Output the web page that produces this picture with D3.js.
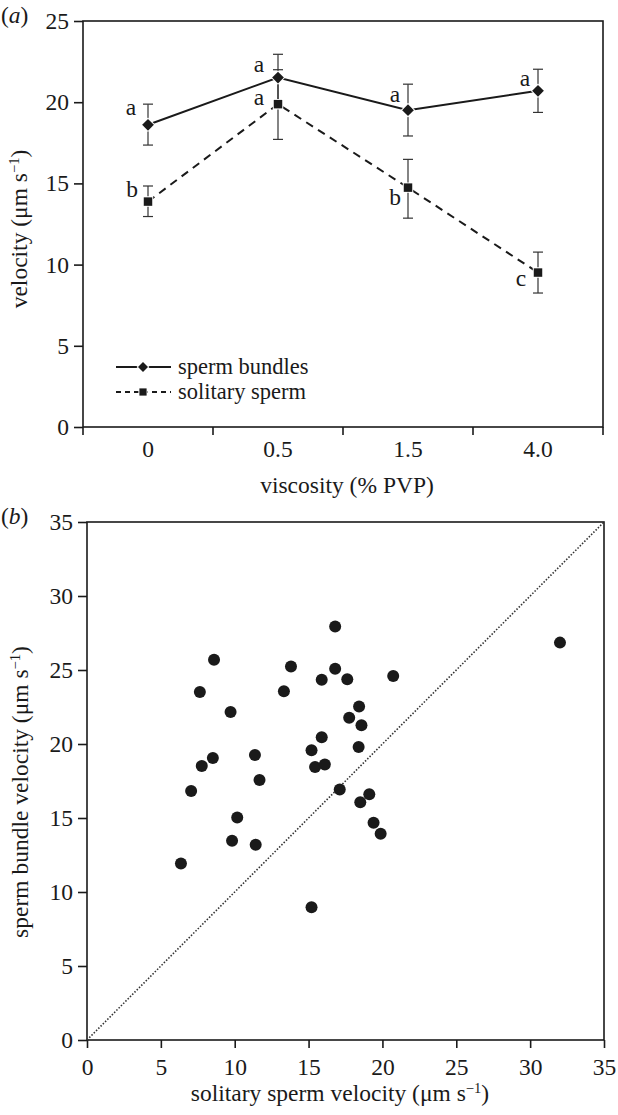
<!DOCTYPE html>
<html>
<head>
<meta charset="utf-8">
<script src="https://cdn.jsdelivr.net/npm/d3@7"></script>
<style>
  html, body { margin: 0; padding: 0; background: #fff; }
  svg { display: block; }
  text { font-family: "Liberation Serif", "Times New Roman", serif; fill: #1a1a1a; }
</style>
</head>
<body>
<svg id="chart" width="618" height="1115"></svg>
<script>
// ---------- Panel (a) data ----------
const viscosityCategories = ["0", "0.5", "1.5", "4.0"];
const bundleMeans   = [18.61, 21.52, 19.51, 20.70];
const bundleUpper   = [19.88, 22.95, 21.11, 22.03];
const bundleLower   = [17.36, 20.10, 17.92, 19.37];
const bundleLetters = ["a", "a", "a", "a"];
const solitaryMeans   = [13.88, 19.88, 14.74, 9.51];
const solitaryUpper   = [14.84, 22.00, 16.48, 10.77];
const solitaryLower   = [12.96, 17.71, 12.86, 8.25];
const solitaryLetters = ["b", "a", "b", "c"];
const panelAYTicks = [0, 5, 10, 15, 20, 25];
const legendLabels = ["sperm bundles", "solitary sperm"];

// ---------- Panel (b) data ----------
const solitaryVelocity = [6.36, 7.05, 7.64, 7.77, 8.52, 8.60, 9.72, 9.82, 10.17, 11.37, 11.42, 11.68,
  13.33, 13.81, 15.20, 15.20, 15.44, 15.89, 15.89, 16.10, 16.80, 16.80, 17.11, 17.62, 17.75,
  18.42, 18.39, 18.58, 18.50, 19.11, 19.40, 19.88, 20.73, 32.02];
const bundleVelocity = [11.93, 16.83, 23.52, 18.52, 19.05, 25.69, 22.17, 13.47, 15.03, 19.26, 13.20, 17.57,
  23.57, 25.24, 8.97, 19.58, 18.44, 20.45, 24.34, 18.62, 27.94, 25.08, 16.93, 24.37, 21.77,
  22.54, 19.79, 21.27, 16.06, 16.61, 14.68, 13.94, 24.60, 26.85];
const panelBTicks = [0, 5, 10, 15, 20, 25, 30, 35];

const svg = d3.select("#chart");
const ink = "#1a1a1a";
const FS = 23.5;

function unitLabel(sel, prefix) {
  sel.append("tspan").text(prefix + "μm s");
  sel.append("tspan").attr("dy", -8).attr("font-size", FS * 0.62).text("−1");
  sel.append("tspan").attr("dy", 8).text(")");
}

// ================= Panel (a) =================
const A = { left: 83, right: 603, top: 21, bottom: 427 };
const xA = d3.scaleBand().domain(viscosityCategories).range([A.left, A.right]);
const cx = c => xA(c) + xA.bandwidth() / 2;
const yA = d3.scaleLinear().domain([0, 25]).range([A.bottom, A.top]);

const gA = svg.append("g");
gA.append("rect").attr("x", A.left).attr("y", A.top)
  .attr("width", A.right - A.left).attr("height", A.bottom - A.top)
  .attr("fill", "none").attr("stroke", ink).attr("stroke-width", 1.6);

const yAxisA = gA.append("g").attr("transform", `translate(${A.left},0)`)
  .call(d3.axisLeft(yA).tickValues(panelAYTicks).tickSize(9).tickPadding(5).tickFormat(d3.format("d")));
yAxisA.select(".domain").remove();
yAxisA.selectAll("line").attr("stroke", ink).attr("stroke-width", 1.6);
yAxisA.selectAll("text").attr("font-size", FS).attr("font-family", "Liberation Serif").attr("fill", ink);

const boundaries = viscosityCategories.map(c => xA(c)).concat([A.right]);
gA.selectAll(".xtickA").data(boundaries).join("line")
  .attr("x1", d => d).attr("x2", d => d)
  .attr("y1", A.bottom).attr("y2", A.bottom + 8)
  .attr("stroke", ink).attr("stroke-width", 1.6);
gA.selectAll(".xlabA").data(viscosityCategories).join("text")
  .attr("x", d => cx(d)).attr("y", 457)
  .attr("text-anchor", "middle").attr("font-size", FS).text(d => d);

gA.append("text").attr("x", (A.left + A.right) / 2 + 4).attr("y", 493)
  .attr("text-anchor", "middle").attr("font-size", FS).text("viscosity (% PVP)");

const yTitleA = gA.append("text")
  .attr("transform", `translate(27,229) rotate(-90)`)
  .attr("text-anchor", "middle").attr("font-size", FS);
unitLabel(yTitleA, "velocity (");

gA.append("text").attr("x", 1).attr("y", 23).attr("font-size", FS)
  .html('(<tspan font-style="italic">a</tspan>)');

const lineGen = d3.line().x(d => cx(d.c)).y(d => yA(d.v));
const bundlePts = viscosityCategories.map((c, i) => ({ c, v: bundleMeans[i], hi: bundleUpper[i], lo: bundleLower[i], l: bundleLetters[i] }));
const soloPts = viscosityCategories.map((c, i) => ({ c, v: solitaryMeans[i], hi: solitaryUpper[i], lo: solitaryLower[i], l: solitaryLetters[i] }));

gA.append("path").datum(soloPts).attr("d", lineGen)
  .attr("fill", "none").attr("stroke", ink).attr("stroke-width", 2).attr("stroke-dasharray", "8,6");
gA.append("path").datum(bundlePts).attr("d", lineGen)
  .attr("fill", "none").attr("stroke", ink).attr("stroke-width", 2);

function errorBars(pts) {
  const g = gA.append("g").attr("stroke", "#333").attr("stroke-width", 1.2);
  pts.forEach(p => {
    const x = cx(p.c);
    g.append("line").attr("x1", x).attr("x2", x).attr("y1", yA(p.hi)).attr("y2", yA(p.lo));
    g.append("line").attr("x1", x - 5).attr("x2", x + 5).attr("y1", yA(p.hi)).attr("y2", yA(p.hi));
    g.append("line").attr("x1", x - 5).attr("x2", x + 5).attr("y1", yA(p.lo)).attr("y2", yA(p.lo));
  });
}
errorBars(soloPts);
errorBars(bundlePts);

const diamond = d3.symbol().type(d3.symbolDiamond2).size(88);
const square = d3.symbol().type(d3.symbolSquare).size(72);
const diamondSmall = d3.symbol().type(d3.symbolDiamond2).size(64);
const squareSmall = d3.symbol().type(d3.symbolSquare).size(52);

function markers(pts, sym) {
  gA.selectAll(null).data(pts).join("path")
    .attr("d", sym)
    .attr("transform", d => `translate(${cx(d.c)},${yA(d.v)})`)
    .attr("fill", ink).attr("stroke", "#fff").attr("stroke-width", 2).attr("paint-order", "stroke");
}
markers(soloPts, square);
markers(bundlePts, diamond);

const bundleLetterOffset = [[-17, -10], [-19, -6], [-13, -8], [-13, -5]];
const soloLetterOffset = [[-16, -5], [-19, 1], [-13, 17], [-17, 13]];
function letters(pts, offs) {
  gA.selectAll(null).data(pts).join("text")
    .attr("x", (d, i) => cx(d.c) + offs[i][0])
    .attr("y", (d, i) => yA(d.v) + offs[i][1])
    .attr("text-anchor", "middle").attr("font-size", FS).text(d => d.l);
}
letters(bundlePts, bundleLetterOffset);
letters(soloPts, soloLetterOffset);

// legend
const legend = gA.append("g");
const legRows = [
  { y: 367, dash: null, sym: diamondSmall },
  { y: 392, dash: "5,4", sym: squareSmall }
];
legRows.forEach((r, i) => {
  const ln = legend.append("line").attr("x1", 116).attr("x2", 171).attr("y1", r.y).attr("y2", r.y)
    .attr("stroke", ink).attr("stroke-width", 2);
  if (r.dash) ln.attr("stroke-dasharray", r.dash);
  legend.append("path").attr("d", r.sym).attr("transform", `translate(143,${r.y})`)
    .attr("fill", ink).attr("stroke", "#fff").attr("stroke-width", 2).attr("paint-order", "stroke");
  legend.append("text").attr("x", 178).attr("y", r.y + 7).attr("font-size", 22.5).text(legendLabels[i]);
});

// ================= Panel (b) =================
const B = { left: 87, right: 604, top: 522, bottom: 1040 };
const xB = d3.scaleLinear().domain([0, 35]).range([B.left, B.right]);
const yB = d3.scaleLinear().domain([0, 35]).range([B.bottom, B.top]);
const gB = svg.append("g");

gB.append("rect").attr("x", B.left).attr("y", B.top)
  .attr("width", B.right - B.left).attr("height", B.bottom - B.top)
  .attr("fill", "none").attr("stroke", ink).attr("stroke-width", 1.6);

const yAxisB = gB.append("g").attr("transform", `translate(${B.left},0)`)
  .call(d3.axisLeft(yB).tickValues(panelBTicks).tickSize(9).tickPadding(5).tickFormat(d3.format("d")));
yAxisB.select(".domain").remove();
yAxisB.selectAll("line").attr("stroke", ink).attr("stroke-width", 1.6);
yAxisB.selectAll("text").attr("font-size", FS).attr("font-family", "Liberation Serif").attr("fill", ink);

const xAxisB = gB.append("g").attr("transform", `translate(0,${B.bottom})`)
  .call(d3.axisBottom(xB).tickValues(panelBTicks).tickSize(8).tickPadding(10).tickFormat(d3.format("d")));
xAxisB.select(".domain").remove();
xAxisB.selectAll("line").attr("stroke", ink).attr("stroke-width", 1.6);
xAxisB.selectAll("text").attr("font-size", FS).attr("font-family", "Liberation Serif").attr("fill", ink);

gB.append("line").attr("x1", xB(0)).attr("y1", yB(0)).attr("x2", xB(35)).attr("y2", yB(35))
  .attr("stroke", "#333").attr("stroke-width", 1.6).attr("stroke-dasharray", "1.5,1.7");

gB.selectAll("circle").data(solitaryVelocity.map((s, i) => [s, bundleVelocity[i]])).join("circle")
  .attr("cx", d => xB(d[0])).attr("cy", d => yB(d[1])).attr("r", 6).attr("fill", ink);

const xTitleB = gB.append("text").attr("x", 340).attr("y", 1101)
  .attr("text-anchor", "middle").attr("font-size", FS);
unitLabel(xTitleB, "solitary sperm velocity (");

const yTitleB = gB.append("text")
  .attr("transform", `translate(28,792) rotate(-90)`)
  .attr("text-anchor", "middle").attr("font-size", FS);
unitLabel(yTitleB, "sperm bundle velocity  (");

gB.append("text").attr("x", 1).attr("y", 524).attr("font-size", FS)
  .html('(<tspan font-style="italic">b</tspan>)');
</script>
</body>
</html>
